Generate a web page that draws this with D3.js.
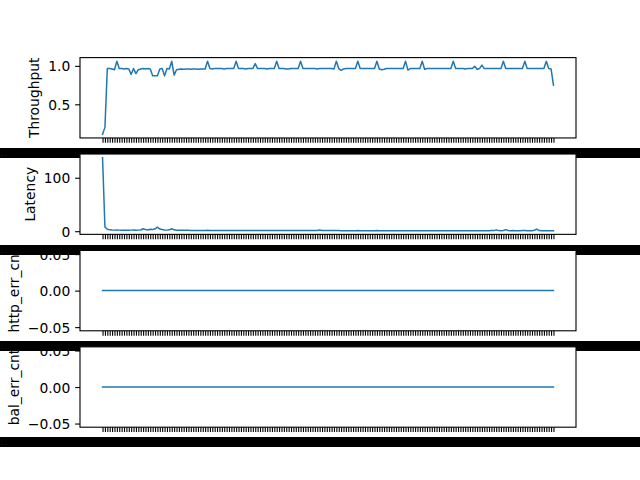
<!DOCTYPE html>
<html><head><meta charset="utf-8">
<script src="https://cdn.jsdelivr.net/npm/d3@7"></script>
<style>body{margin:0;background:#fff}svg{display:block}</style>
</head><body><svg id="c" width="640" height="480"></svg>
<script>
// ---- data ----
const throughput = [
 0.11,0.20,0.965,0.965,0.96,0.95,1.06,0.965,0.965,0.96,
 0.965,0.96,0.89,0.965,0.90,0.95,0.96,0.965,0.96,0.965,
 0.96,0.87,0.87,0.87,0.96,0.965,0.87,0.965,0.96,1.06,
 0.88,0.95,0.955,0.96,0.955,0.96,0.96,0.955,0.96,0.96,
 0.955,0.96,0.96,0.96,1.06,0.965,0.96,0.965,0.965,0.965,
 0.965,0.96,0.965,0.965,0.965,0.965,1.06,0.965,0.965,0.965,
 0.96,0.965,0.965,0.965,1.03,0.965,0.965,0.965,0.965,0.96,
 0.965,0.965,0.965,1.06,0.965,0.965,0.965,0.96,0.96,0.965,
 0.965,0.965,0.965,1.06,0.965,0.965,0.965,0.965,0.965,0.965,
 0.96,0.965,0.965,0.965,0.965,0.965,0.965,0.96,1.06,0.965,
 0.94,0.96,0.965,0.965,0.965,0.965,0.965,1.06,0.965,0.965,
 0.965,0.965,0.965,0.965,0.965,1.06,0.96,0.95,0.955,0.965,
 0.965,0.965,0.965,0.965,0.965,0.965,0.965,1.06,0.945,0.965,
 0.965,0.965,0.965,0.965,1.06,0.955,0.965,0.965,0.965,0.965,
 0.965,0.965,0.965,0.965,0.965,0.965,0.965,1.06,0.965,0.965,
 0.965,0.965,0.96,0.965,0.965,0.965,0.995,0.955,0.965,1.01,
 0.965,0.965,0.965,0.965,0.965,0.965,0.965,0.965,1.06,0.965,
 0.965,0.965,0.965,0.965,0.965,0.965,0.965,1.06,0.965,0.965,
 0.965,0.965,0.965,0.965,0.965,0.965,1.06,0.965,0.96,0.75
];
const latency = [
 137.5,8,3.5,2.5,2.2,2.0,2.1,2.0,1.9,2.0,
 2.0,1.9,2.0,2.1,1.9,2.0,2.2,4.5,3.0,2.2,
 3.5,3.0,4.5,7.5,4.0,3.0,2.2,2.0,2.5,4.5,
 2.5,1.8,1.7,1.7,1.6,1.6,1.6,1.5,1.5,1.5,
 1.5,1.5,1.5,1.5,1.6,1.5,1.5,1.5,1.5,1.4,
 1.4,1.4,1.4,1.4,1.4,1.4,1.5,1.4,1.4,1.4,
 1.4,1.4,1.4,1.3,1.4,1.3,1.3,1.3,1.3,1.3,
 1.3,1.3,1.3,1.4,1.3,1.3,1.3,1.3,1.3,1.3,
 1.3,1.3,1.3,1.4,1.3,1.3,1.2,1.2,1.2,1.2,
 1.4,2.2,1.5,1.2,1.2,1.1,1.1,1.1,1.1,1.1,
 1.0,1.0,1.0,1.0,1.0,1.0,1.0,1.1,1.0,1.0,
 1.0,1.0,1.0,1.0,1.0,1.1,1.0,1.0,1.0,1.0,
 1.0,1.0,1.0,1.0,0.9,0.9,0.9,1.0,0.9,0.9,
 0.9,0.9,0.9,0.9,1.0,0.9,0.9,0.9,0.9,0.9,
 0.9,0.9,0.9,0.9,0.9,0.9,0.9,1.0,0.9,0.9,
 0.9,0.9,0.9,0.9,0.9,0.9,1.0,0.9,0.9,1.0,
 0.9,0.9,1.0,1.2,1.1,2.5,1.1,1.0,1.2,3.0,
 1.2,1.0,1.1,1.0,0.9,1.0,1.1,1.2,1.0,0.9,
 0.9,1.8,4.0,1.2,0.9,0.9,0.9,0.9,0.9,0.9
];
const httpErrCnt = [
 0,0,0,0,0,0,0,0,0,0,0,0,0,0,0,0,0,0,0,0,
 0,0,0,0,0,0,0,0,0,0,0,0,0,0,0,0,0,0,0,0,
 0,0,0,0,0,0,0,0,0,0,0,0,0,0,0,0,0,0,0,0,
 0,0,0,0,0,0,0,0,0,0,0,0,0,0,0,0,0,0,0,0,
 0,0,0,0,0,0,0,0,0,0,0,0,0,0,0,0,0,0,0,0,
 0,0,0,0,0,0,0,0,0,0,0,0,0,0,0,0,0,0,0,0,
 0,0,0,0,0,0,0,0,0,0,0,0,0,0,0,0,0,0,0,0,
 0,0,0,0,0,0,0,0,0,0,0,0,0,0,0,0,0,0,0,0,
 0,0,0,0,0,0,0,0,0,0,0,0,0,0,0,0,0,0,0,0,
 0,0,0,0,0,0,0,0,0,0
];
const balErrCnt = [
 0,0,0,0,0,0,0,0,0,0,0,0,0,0,0,0,0,0,0,0,
 0,0,0,0,0,0,0,0,0,0,0,0,0,0,0,0,0,0,0,0,
 0,0,0,0,0,0,0,0,0,0,0,0,0,0,0,0,0,0,0,0,
 0,0,0,0,0,0,0,0,0,0,0,0,0,0,0,0,0,0,0,0,
 0,0,0,0,0,0,0,0,0,0,0,0,0,0,0,0,0,0,0,0,
 0,0,0,0,0,0,0,0,0,0,0,0,0,0,0,0,0,0,0,0,
 0,0,0,0,0,0,0,0,0,0,0,0,0,0,0,0,0,0,0,0,
 0,0,0,0,0,0,0,0,0,0,0,0,0,0,0,0,0,0,0,0,
 0,0,0,0,0,0,0,0,0,0,0,0,0,0,0,0,0,0,0,0,
 0,0,0,0,0,0,0,0,0,0
];
const seriesNames = ["Throughput", "Latency", "http_err_cnt", "bal_err_cnt"];
const throughputTicks = [0.5, 1.0], throughputTickLabels = ["0.5", "1.0"];
const latencyTicks = [0, 100], latencyTickLabels = ["0", "100"];
const errTicks = [-0.05, 0, 0.05], errTickLabels = ["\u22120.05", "0.00", "0.05"];
// x categories: one timestamp label per sample (unreadable in the original: they overlap into a solid band)
const N = throughput.length;
const fmt = d3.utcFormat("%Y-%m-%d %H:%M:%S.%f+00:00");
const t0 = Date.UTC(2023, 0, 1, 0, 0, 0);
const xLabels = d3.range(N).map(i => fmt(new Date(t0 + i * 60000)));

// ---- layout ----
const FS = 13.89, FONT = "DejaVu Sans";
const L = 80, R = 576, TOP = 57.6, BOT = 427.2;
const nP = 4, hsp = 0.2;
const ph = (BOT - TOP) / (nP + (nP - 1) * hsp), gap = ph * hsp;
const TICK = 4.86, PAD = 4.86, LW = 1.11;

const svg = d3.select("#c");
svg.append("rect").attr("width", 640).attr("height", 480).attr("fill", "#fff");

const panels = [
  {name: seriesNames[0], data: throughput, ticks: throughputTicks, labels: throughputTickLabels},
  {name: seriesNames[1], data: latency, ticks: latencyTicks, labels: latencyTickLabels},
  {name: seriesNames[2], data: httpErrCnt, ticks: errTicks, labels: errTickLabels},
  {name: seriesNames[3], data: balErrCnt, ticks: errTicks, labels: errTickLabels}
];

const x = d3.scaleLinear().domain([-0.05 * (N - 1), 1.05 * (N - 1)]).range([L, R]);

panels.forEach((p, k) => {
  const top = TOP + k * (ph + gap), bot = top + ph;
  let [mn, mx] = d3.extent(p.data);
  if (mn === mx) { mn -= 0.05; mx += 0.05; }
  const d = mx - mn;
  const y = d3.scaleLinear().domain([mn - 0.05 * d, mx + 0.05 * d]).range([bot, top]);
  const g = svg.append("g");
  g.append("rect").attr("x", L).attr("y", top).attr("width", R - L).attr("height", ph).attr("fill", "#fff");
  g.append("clipPath").attr("id", "clip" + k).append("rect")
    .attr("x", L).attr("y", top).attr("width", R - L).attr("height", ph);
  g.append("path").datum(p.data)
    .attr("clip-path", `url(#clip${k})`)
    .attr("fill", "none").attr("stroke", "#1f77b4").attr("stroke-width", 1.5)
    .attr("stroke-linejoin", "round").attr("stroke-linecap", "square")
    .attr("d", d3.line().x((v, i) => x(i)).y(v => y(v)));
  g.append("rect").attr("x", L).attr("y", top).attr("width", R - L).attr("height", ph)
    .attr("fill", "none").attr("stroke", "#000").attr("stroke-width", LW);

  const ya = g.append("g").attr("transform", `translate(${L},0)`)
    .call(d3.axisLeft(y).tickValues(p.ticks).tickFormat((v, i) => p.labels[i])
      .tickSize(TICK).tickPadding(PAD).tickSizeOuter(0));
  ya.select(".domain").remove();
  ya.attr("font-family", FONT).attr("font-size", FS);
  ya.selectAll(".tick line").attr("stroke", "#000").attr("stroke-width", LW);
  ya.selectAll(".tick text").attr("fill", "#000").attr("dy", "0.36em");

  const xa = g.append("g").attr("transform", `translate(0,${bot})`)
    .call(d3.axisBottom(x).tickValues(d3.range(N)).tickFormat(i => xLabels[i])
      .tickSize(TICK).tickPadding(PAD).tickSizeOuter(0));
  xa.select(".domain").remove();
  xa.attr("font-family", FONT).attr("font-size", FS);
  xa.selectAll(".tick line").attr("stroke", "#000").attr("stroke-width", LW);
  xa.selectAll(".tick text").attr("fill", "#000").attr("dy", "0.76em");

  let minX = Infinity;
  ya.selectAll(".tick text").each(function () {
    const b = this.getBBox();
    minX = Math.min(minX, L + b.x);
  });
  const lx = minX - 5.56 - 0.236 * FS;
  const ly = (top + bot) / 2;
  g.append("text").attr("transform", `translate(${lx},${ly}) rotate(-90)`)
    .attr("text-anchor", "middle").attr("font-family", FONT).attr("font-size", FS)
    .attr("fill", "#000").text(p.name);
});
</script></body></html>
